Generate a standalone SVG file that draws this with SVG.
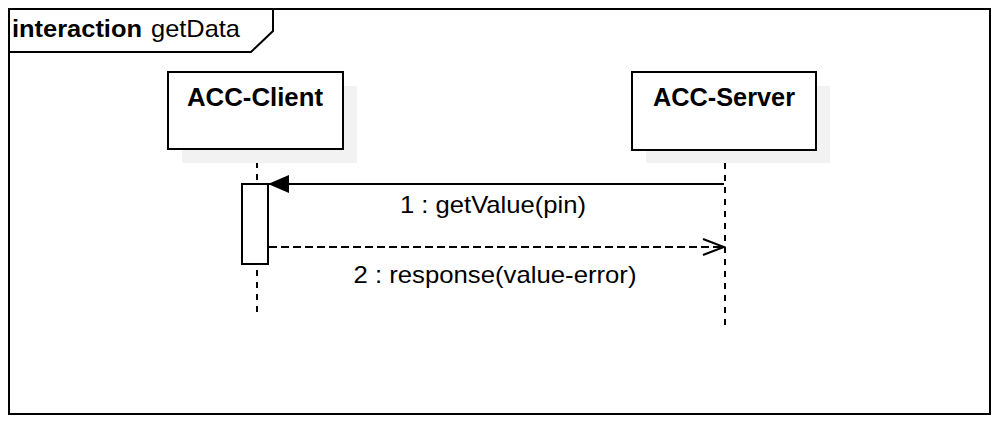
<svg xmlns="http://www.w3.org/2000/svg" width="1008" height="432" viewBox="0 0 1008 432">
<style>
text{font-family:"Liberation Sans",Arial,sans-serif;fill:#000}
.box{fill:#fff;stroke:#000;stroke-width:2}
.shadow{fill:#f2f2f2;stroke:none}
.life{stroke:#000;stroke-width:2;stroke-dasharray:6 6;fill:none}
.msg{stroke:#000;stroke-width:2;fill:none}
.ret{stroke:#000;stroke-width:2;stroke-dasharray:8 4;fill:none}
.node{font-size:25px;font-weight:bold}
.lbl{font-size:24px}
</style>
<defs>
<marker id="filled" markerWidth="22" markerHeight="20" refX="21" refY="9" orient="auto" markerUnits="userSpaceOnUse">
<path d="M0,0 L21,9 L0,18 Z" fill="#000"/>
</marker>
<marker id="open" markerWidth="24" markerHeight="20" refX="22" refY="9" orient="auto" markerUnits="userSpaceOnUse">
<path d="M1,1 L22,9 L1,17" fill="none" stroke="#000" stroke-width="2"/>
</marker>
</defs>
<rect width="1008" height="432" fill="#fff"/>
<g id="frame">
<rect x="9" y="9" width="981" height="405" fill="none" stroke="#000" stroke-width="2"/>
<path d="M9,52 L251,52 L273,31 L273,9" fill="none" stroke="#000" stroke-width="2"/>
<text x="12" y="37" font-size="24"><tspan font-weight="bold" textLength="130" lengthAdjust="spacingAndGlyphs">interaction</tspan><tspan x="151" textLength="89" lengthAdjust="spacingAndGlyphs">getData</tspan></text>
</g>
<g id="lifelines">
<line class="life" x1="257" y1="150" x2="257" y2="314"/>
<line class="life" x1="725" y1="151" x2="725" y2="326"/>
</g>
<g id="acc-client">
<rect class="shadow" x="182" y="86" width="175" height="77"/>
<rect class="box" x="168" y="72" width="175" height="77"/>
<text class="node" x="255" y="106" text-anchor="middle" textLength="136" lengthAdjust="spacingAndGlyphs">ACC-Client</text>
</g>
<g id="acc-server">
<rect class="shadow" x="646" y="86" width="184" height="77"/>
<rect class="box" x="632" y="72" width="184" height="78"/>
<text class="node" x="724" y="106" text-anchor="middle" textLength="142" lengthAdjust="spacingAndGlyphs">ACC-Server</text>
</g>
<g id="activation">
<rect class="box" x="242" y="184" width="26" height="80"/>
</g>
<g id="connectors">
<line class="msg" x1="724" y1="184" x2="268" y2="184" marker-end="url(#filled)"/>
<text class="lbl" x="493" y="213" text-anchor="middle" textLength="186" lengthAdjust="spacingAndGlyphs">1 : getValue(pin)</text>
<line class="ret" x1="269" y1="247" x2="724" y2="247" marker-end="url(#open)"/>
<text class="lbl" x="495" y="283" text-anchor="middle" textLength="283" lengthAdjust="spacingAndGlyphs">2 : response(value-error)</text>
</g>
</svg>
